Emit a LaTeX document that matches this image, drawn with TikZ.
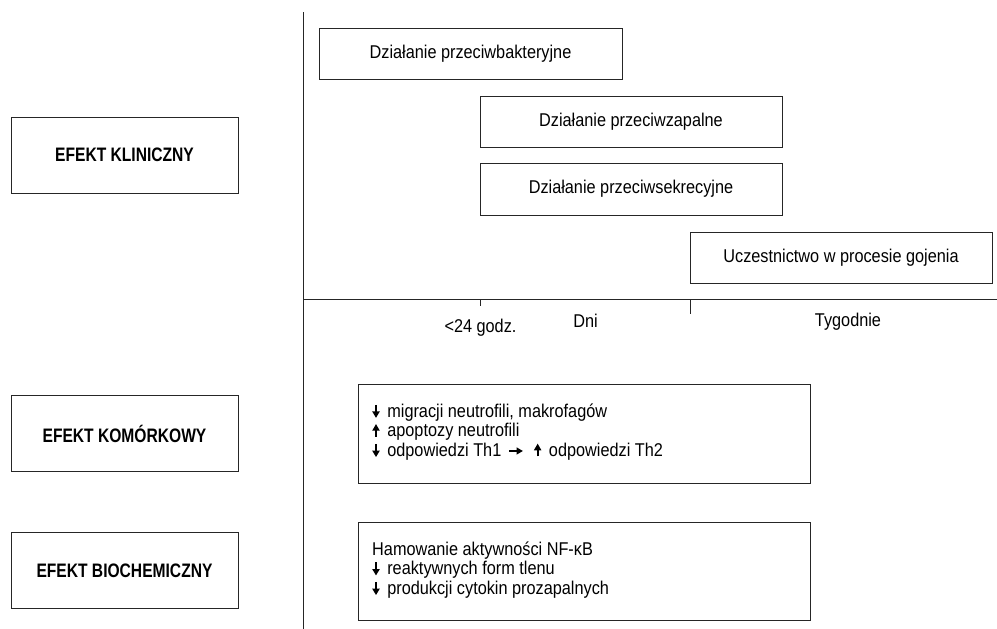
\documentclass[tikz,border=0pt]{standalone}
\usepackage{fontspec}
\setmainfont[FakeStretch=0.88]{Liberation Sans}
\newfontfamily\condbold[FakeStretch=0.8]{Liberation Sans}
\newcommand{\adn}{\tikz[baseline=0pt,x=1pt,y=1pt,line width=2pt]{\draw (0,12.5)--(0,5); \fill (-3.8,5.8)--(3.8,5.8)--(0,-0.5)--cycle;}}
\newcommand{\aup}{\tikz[baseline=0pt,x=1pt,y=1pt,line width=2pt]{\draw (0,0)--(0,7); \fill (-3.8,6.2)--(3.8,6.2)--(0,12.8)--cycle;}}
\newcommand{\ari}{\tikz[baseline=0pt,x=1pt,y=1pt,line width=2pt]{\draw (0,5.5)--(8,5.5); \fill (7.2,1.8)--(7.2,9.2)--(13.5,5.5)--cycle;}}
\begin{document}
\begin{tikzpicture}[x=1pt,y=-1pt,
  ln/.style={line width=1pt,draw=black!85},
  box/.style={ln,rectangle,inner sep=0pt,font=\fontsize{18.5}{19.5}\selectfont},
  headbox/.style={ln,rectangle,inner sep=0pt,minimum width=227pt,minimum height=76pt,font=\condbold\bfseries\fontsize{19.5}{20}\selectfont},
  lbl/.style={inner sep=0pt,anchor=base,font=\fontsize{18.5}{19.5}\selectfont},
  listtxt/.style={inner sep=0pt,anchor=west,align=left,font=\fontsize{18.5}{19.6}\selectfont}]
\useasboundingbox (0,0) rectangle (997,629);
% axes
\coordinate (vt) at (303,12);
\coordinate (vb) at (303,629);
\coordinate (hl) at (303,299);
\coordinate (hr) at (997,299);
\coordinate (t1a) at (480,299);
\coordinate (t1b) at (480,306);
\coordinate (t2a) at (690,299);
\coordinate (t2b) at (690,314);
\draw[ln] (vt) -- (vb);
\draw[ln] (hl) -- (hr);
\draw[ln] (t1a) -- (t1b);
\draw[ln] (t2a) -- (t2b);
% left headings
\node[headbox] (kl) at (124.5,155) {EFEKT KLINICZNY};
\node[headbox] (km) at (124.5,433.5) {EFEKT KOMÓRKOWY};
\node[headbox] (bc) at (124.5,570.5) {EFEKT BIOCHEMICZNY};
% clinical effect boxes
\node[box,minimum width=303pt,minimum height=51pt] (b1) at (470.5,53.5) {Działanie przeciwbakteryjne};
\node[box,minimum width=302pt,minimum height=51pt] (b2) at (631,121.5) {Działanie przeciwzapalne};
\node[box,minimum width=302pt,minimum height=52pt] (b3) at (631,189) {Działanie przeciwsekrecyjne};
\node[box,minimum width=302pt,minimum height=51pt] (b4) at (841,257.5) {Uczestnictwo w procesie gojenia};
% axis labels
\node[lbl] (l1) at (480.5,332) {<24 godz.};
\node[lbl] (l2) at (585.5,327) {Dni};
\node[lbl] (l3) at (848,326) {Tygodnie};
% cell box
\node[box,minimum width=452pt,minimum height=99pt] (cb) at (584,433.5) {};
\node[listtxt] (ct) at (372,432) {\adn\hspace{3pt} migracji neutrofili, makrofagów\\\aup\hspace{3pt} apoptozy neutrofili\\\adn\hspace{3pt} odpowiedzi Th1\hspace{7pt}\ari\hspace{11pt}\aup\hspace{3pt} odpowiedzi Th2};
% biochemical box
\node[box,minimum width=452pt,minimum height=98pt] (bb) at (584,571) {};
\node[listtxt] (bt) at (372,570) {Hamowanie aktywności NF-κB\\\adn\hspace{3pt} reaktywnych form tlenu\\\adn\hspace{3pt} produkcji cytokin prozapalnych};
\end{tikzpicture}
\end{document}
